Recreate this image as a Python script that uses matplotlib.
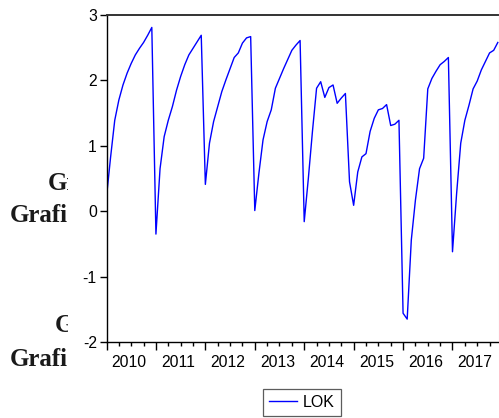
import matplotlib
matplotlib.use('Agg')
import matplotlib.pyplot as plt
from matplotlib.patches import Rectangle
import numpy as np

plt.rcParams['font.family'] = ['Liberation Sans', 'DejaVu Sans']
plt.rcParams['axes.unicode_minus'] = False

# LOK, monthly 2010M01 - 2017M12
lok_2010 = [0.22, 0.83, 1.39, 1.70, 1.93, 2.11, 2.26, 2.39, 2.49, 2.58, 2.69, 2.81]
lok_2011 = [-0.35, 0.65, 1.14, 1.39, 1.60, 1.85, 2.06, 2.24, 2.39, 2.49, 2.59, 2.69]
lok_2012 = [0.41, 1.04, 1.37, 1.60, 1.83, 2.01, 2.18, 2.35, 2.42, 2.57, 2.65, 2.67]
lok_2013 = [0.01, 0.58, 1.09, 1.37, 1.55, 1.88, 2.03, 2.18, 2.32, 2.46, 2.54, 2.61]
lok_2014 = [-0.16, 0.50, 1.22, 1.88, 1.98, 1.74, 1.89, 1.93, 1.65, 1.73, 1.80, 0.45]
lok_2015 = [0.09, 0.60, 0.83, 0.88, 1.22, 1.42, 1.55, 1.57, 1.63, 1.31, 1.33, 1.39]
lok_2016 = [-1.56, -1.65, -0.44, 0.17, 0.65, 0.81, 1.87, 2.03, 2.14, 2.24, 2.29, 2.35]
lok_2017 = [-0.62, 0.27, 1.04, 1.39, 1.62, 1.87, 1.99, 2.16, 2.29, 2.42, 2.46, 2.58]
lok = lok_2010 + lok_2011 + lok_2012 + lok_2013 + lok_2014 + lok_2015 + lok_2016 + lok_2017
years = ['2010', '2011', '2012', '2013', '2014', '2015', '2016', '2017']
yticks = [-2, -1, 0, 1, 2, 3]

W, H = 499, 418
fig = plt.figure(figsize=(W / 100, H / 100), dpi=100)

# bits of the document text behind the chart
tkw = dict(family='Liberation Serif', fontweight='bold', fontsize=18, color='#1a1a1a', zorder=-3)
fig.text(48 / W, 1 - 190 / H, 'Grafi', **tkw)
fig.text(10 / W, 1 - 222 / H, 'Grafi', **tkw)
fig.text(55 / W, 1 - 332 / H, 'Grafi', **tkw)
fig.text(10 / W, 1 - 366 / H, 'Grafi', **tkw)
fig.add_artist(Rectangle((68 / W, 0), 1, 1, transform=fig.transFigure,
                         facecolor='white', edgecolor='none', zorder=-2))

x0, x1, ytop, ybot = 106.5, 498.5, 15, 342
ax = fig.add_axes([x0 / W, 1 - ybot / H, (x1 - x0) / W, (ybot - ytop) / H])
x = np.arange(len(lok))
ax.plot(x, lok, color='#0000ff', lw=1.0, label='LOK')

ax.set_xlim(0, (x1 - x0) / 4.119)
ax.set_ylim(-2, 3)
ax.set_yticks(yticks)
ax.set_yticklabels([str(v) for v in yticks])
ax.tick_params(axis='y', direction='out', length=5, width=1, pad=2, labelsize=11.3)

ax.set_xticks(np.arange(0, len(lok), 12))
ax.set_xticks(np.arange(0, len(lok), 3), minor=True)
ax.tick_params(axis='x', which='major', direction='out', length=5.5, width=1, labelbottom=False)
ax.tick_params(axis='x', which='minor', direction='out', length=2.7, width=1)

sec = ax.secondary_xaxis('bottom')
sec.set_xticks(np.arange(len(years)) * 12 + 5.5)
sec.set_xticklabels(years)
sec.tick_params(length=0, pad=9.5, labelsize=11.3)
sec.spines['bottom'].set_visible(False)

ax.spines['top'].set_color('#333333')
ax.spines['top'].set_linewidth(1.4)
ax.spines['right'].set_color('#cccccc')
ax.spines['left'].set_linewidth(1.0)
ax.spines['bottom'].set_linewidth(1.0)

leg = ax.legend(loc='center', bbox_to_anchor=(302.2 / W, 1 - 402.5 / H),
                bbox_transform=fig.transFigure, frameon=True, fancybox=False,
                fontsize=11.5, handlelength=1.75, handletextpad=0.35,
                borderpad=0.4, borderaxespad=0)
leg.get_frame().set_edgecolor('#333333')
leg.get_frame().set_linewidth(0.9)

plt.savefig('out.png', dpi=100)
